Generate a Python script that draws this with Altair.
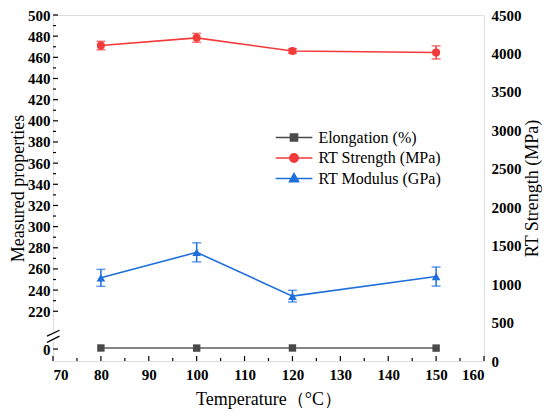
import altair as alt
import pandas as pd

# ---------------- data ----------------
temps = [80, 100, 120, 150]
elongation = [1.0, 0.9, 1.0, 0.9]            # % (sits just above the "0" of the broken axis)
strength = [4103, 4203, 4032, 4013]           # MPa (right axis)
strength_err = [55, 58, 30, 85]
modulus = [251.6, 275.7, 234.3, 252.8]        # GPa (left axis, upper segment)
modulus_err = [8.0, 9.0, 5.5, 9.0]

series_names = ["Elongation (%)", "RT Strength (MPa)", "RT Modulus (GPa)"]
series_colors = ["#4a4a4a", "#f23a3a", "#1e6fdc"]

x_ticks = list(range(70, 161, 10))
x_minor = list(range(75, 160, 10))
left_ticks = list(range(220, 501, 20))
left_minor = list(range(230, 500, 20))
right_ticks = list(range(0, 4501, 500))

LEFT_DOMAIN = [173, 500]
ZERO_POS = 184.3          # position of "0" on the broken left axis
BREAK_GAP = [193.4, 200.5]
BREAK_SLASH_LO = [196.5, 190.6]
BREAK_SLASH_HI = [202.1, 196.5]

FONT = "Liberation Serif"
W, H = 431, 346

# ---------------- tables ----------------
df_mod = pd.DataFrame({
    "t": temps, "v": modulus,
    "lo": [m - e for m, e in zip(modulus, modulus_err)],
    "hi": [m + e for m, e in zip(modulus, modulus_err)],
})
df_el = pd.DataFrame({"t": temps, "v": [ZERO_POS + e for e in elongation]})
df_str = pd.DataFrame({
    "t": temps, "v": strength,
    "lo": [s - e for s, e in zip(strength, strength_err)],
    "hi": [s + e for s, e in zip(strength, strength_err)],
})
df_ymaj = pd.DataFrame({"v": [ZERO_POS] + left_ticks})
df_ymin = pd.DataFrame({"v": left_minor})
df_xmaj = pd.DataFrame({"t": x_ticks})
df_xmin = pd.DataFrame({"t": x_minor})
df_gap = pd.DataFrame({"a": [BREAK_GAP[0]], "b": [BREAK_GAP[1]]})
df_slash = pd.DataFrame({"a": BREAK_SLASH_LO, "b": BREAK_SLASH_HI})
df_leg = pd.DataFrame({"series": series_names, "t": [temps[0]] * 3,
                       "v": [LEFT_DOMAIN[0] - 100] * 3})

# ---------------- scales & axes ----------------
x_scale = alt.Scale(domain=[70, 160], nice=False, zero=False)
yl_scale = alt.Scale(domain=LEFT_DOMAIN, nice=False, zero=False)
yr_scale = alt.Scale(domain=[0, 4500], nice=False, zero=False)

common = dict(ticks=False, domain=False, grid=False, labelFont=FONT,
              labelFontWeight="bold", labelFontSize=15, labelColor="black",
              titleFont=FONT, titleFontSize=18, titleFontWeight="normal",
              titleColor="black")

x_axis = alt.Axis(title="Temperature（°C）", values=x_ticks, labelPadding=6,
                  titlePadding=8, format="d", **common)
yl_axis = alt.Axis(title="Measured properties", orient="left",
                   values=[ZERO_POS] + left_ticks,
                   labelExpr="datum.value < 200 ? '0' : format(datum.value, 'd')",
                   labelPadding=3, titlePadding=0, **common)
yr_axis = alt.Axis(title="RT Strength (MPa)", orient="right", values=right_ticks,
                   labelPadding=7, titlePadding=2, titleAngle=270,
                   titleBaseline="top", format="d", **common)


def X(field="t"):
    return alt.X(f"{field}:Q", scale=x_scale, axis=x_axis)


def YL(field="v"):
    return alt.Y(f"{field}:Q", scale=yl_scale, axis=yl_axis)


def YR(field="v"):
    return alt.Y(f"{field}:Q", scale=yr_scale, axis=yr_axis)


# ---------------- left-axis group ----------------
ytick_major = alt.Chart(df_ymaj).mark_rule(color="black", strokeWidth=1.2).encode(
    y=YL(), x=alt.value(0), x2=alt.value(5))
ytick_minor = alt.Chart(df_ymin).mark_rule(color="black", strokeWidth=1.2).encode(
    y=YL(), x=alt.value(0), x2=alt.value(3))
xtick_major = alt.Chart(df_xmaj).mark_rule(color="black", strokeWidth=1.2).encode(
    x=X(), y=alt.value(H), y2=alt.value(H - 5))
xtick_minor = alt.Chart(df_xmin).mark_rule(color="black", strokeWidth=1.2).encode(
    x=X(), y=alt.value(H), y2=alt.value(H - 3))

el_line = alt.Chart(df_el).mark_line(color="#5e5e5e", strokeWidth=1.5).encode(x=X(), y=YL())
el_pts = alt.Chart(df_el).mark_point(shape="square", filled=True, size=55,
                                     color=series_colors[0], opacity=1).encode(x=X(), y=YL())

mod_err = alt.Chart(df_mod).mark_rule(color=series_colors[2], strokeWidth=1.5).encode(
    x=X(), y=YL("lo"), y2="hi:Q")
mod_cap_lo = alt.Chart(df_mod).mark_tick(color=series_colors[2], orient="horizontal",
                                         size=9, thickness=1.5).encode(x=X(), y=YL("lo"))
mod_cap_hi = alt.Chart(df_mod).mark_tick(color=series_colors[2], orient="horizontal",
                                         size=9, thickness=1.5).encode(x=X(), y=YL("hi"))
mod_line = alt.Chart(df_mod).mark_line(color=series_colors[2], strokeWidth=1.6).encode(x=X(), y=YL())
mod_pts = alt.Chart(df_mod).mark_point(shape="triangle-up", filled=True, size=75,
                                       color=series_colors[2], opacity=1).encode(x=X(), y=YL())

gap = alt.Chart(df_gap).mark_rect(color="white").encode(
    y=YL("a"), y2="b:Q", x=alt.value(-3), x2=alt.value(3))
slash = alt.Chart(df_slash).mark_rule(color="black", strokeWidth=1.2).encode(
    y=YL("a"), y2="b:Q", x=alt.value(-6), x2=alt.value(6.5))

leg_shapes = [
    "M-2,0H2M-0.39,-0.39H0.39V0.39H-0.39Z",
    "M-2,0H2M0.46,0A0.46,0.46,0,1,1,-0.46,0A0.46,0.46,0,1,1,0.46,0Z",
    "M-2,0H2M0,-0.55L0.5,0.35L-0.5,0.35Z",
]
leg = alt.Legend(title=None, orient="none", legendX=231, legendY=112.5,
                 symbolSize=336, symbolStrokeWidth=1.5, labelOffset=14.4,
                 rowPadding=2.5, padding=0, labelFont=FONT, labelFontSize=16,
                 labelColor="black")
legend_layer = alt.Chart(df_leg).mark_point(filled=True, clip=True, opacity=1).encode(
    x=X(), y=YL(),
    fill=alt.Fill("series:N", scale=alt.Scale(domain=series_names, range=series_colors), legend=leg),
    stroke=alt.Stroke("series:N", scale=alt.Scale(domain=series_names, range=series_colors), legend=leg),
    shape=alt.Shape("series:N", scale=alt.Scale(domain=series_names, range=leg_shapes), legend=leg),
)

left = alt.layer(ytick_major, ytick_minor, xtick_major, xtick_minor,
                 el_line, el_pts, mod_err, mod_cap_lo, mod_cap_hi, mod_line, mod_pts,
                 gap, slash, legend_layer)

# ---------------- right-axis group ----------------
str_err = alt.Chart(df_str).mark_rule(color=series_colors[1], strokeWidth=1.5).encode(
    x=X(), y=YR("lo"), y2="hi:Q")
str_cap_lo = alt.Chart(df_str).mark_tick(color=series_colors[1], orient="horizontal",
                                         size=9, thickness=1.5).encode(x=X(), y=YR("lo"))
str_cap_hi = alt.Chart(df_str).mark_tick(color=series_colors[1], orient="horizontal",
                                         size=9, thickness=1.5).encode(x=X(), y=YR("hi"))
str_line = alt.Chart(df_str).mark_line(color=series_colors[1], strokeWidth=1.6).encode(x=X(), y=YR())
str_pts = alt.Chart(df_str).mark_point(shape="circle", filled=True, size=65,
                                       color=series_colors[1], opacity=1).encode(x=X(), y=YR())

right = alt.layer(str_err, str_cap_lo, str_cap_hi, str_line, str_pts)

chart = alt.layer(left, right).resolve_scale(y="independent").properties(
    width=W, height=H,
    autosize=alt.AutoSizeParams(type="none"),
    padding={"left": 45, "top": 7, "right": 58, "bottom": 49},
).configure_view(stroke="black", strokeWidth=1.5).configure_axis(
    labelFont=FONT, labelFontWeight="bold", labelFontSize=15, labelColor="black",
    titleFont=FONT, titleFontSize=18, titleFontWeight="normal", titleColor="black",
).configure(background="white", font=FONT)

chart.save("out.html", embed_options={"renderer": "svg", "actions": False})
